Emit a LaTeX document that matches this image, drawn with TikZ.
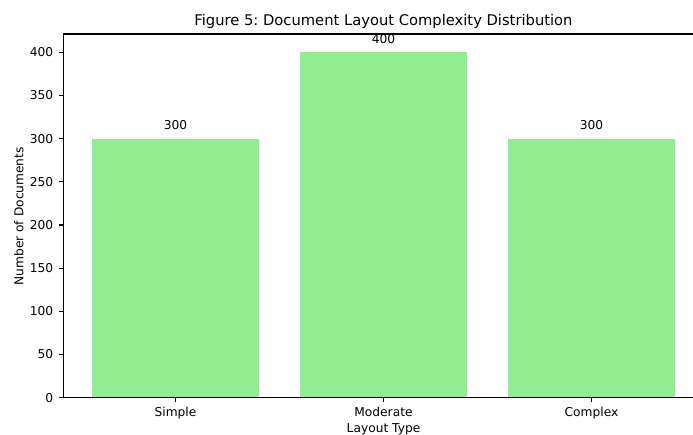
\documentclass[tikz,border=0pt]{standalone}
\usepackage{fontspec}
\setmainfont{DejaVu Sans}
\frenchspacing
\definecolor{barg}{HTML}{90EE90}
\begin{document}
\begin{tikzpicture}[x=0.72pt,y=-0.72pt,
  bar/.style={fill=barg,draw=none},
  spine/.style={draw=black,line width=0.8pt},
  tickmark/.style={draw=black,line width=0.8pt},
  ticklab/.style={inner sep=0pt,font=\fontsize{8.8}{10.5}\selectfont},
  vallab/.style={inner sep=0pt,anchor=base,font=\fontsize{8.8}{10.5}\selectfont},
  axlab/.style={inner sep=0pt,anchor=base,font=\fontsize{8.8}{10.5}\selectfont},
  titlelab/.style={inner sep=0pt,anchor=base,font=\fontsize{10.6}{12.7}\selectfont}]
\useasboundingbox (0,0) rectangle (693,435);
\pgfmathsetmacro{\yz}{397.7}
\pgfmathsetmacro{\ys}{0.8635}
% bars
\foreach \i/\v/\name in {0/300/simple,1/400/moderate,2/300/complex}{
  \pgfmathsetmacro{\cx}{175.5+208*\i}
  \pgfmathsetmacro{\top}{\yz-\v*\ys}
  \fill[bar] (\cx-83.2,\yz) rectangle (\cx+83.2,\top);
  \node[vallab] (val\name) at (\cx,\top-9.2) {\v};
  \draw[tickmark] (\cx,\yz) -- (\cx,\yz+4.3);
}
\node[ticklab,anchor=base] (xsimple) at (175.5,416) {Simple};
\node[ticklab,anchor=base] (xmoderate) at (383.5,416) {Moderate};
\node[ticklab,anchor=base] (xcomplex) at (591.5,416) {Complex};
% y ticks
\foreach \v in {0,50,...,400}{
  \pgfmathsetmacro{\yy}{\yz-\v*\ys}
  \draw[tickmark] (63.2,\yy) -- (58.9,\yy);
  \node[ticklab,anchor=east] (y\v) at (53.5,\yy) {\v};
}
% spines
\draw[spine] (693,34) -- (63.2,34) -- (63.2,\yz) -- (693,\yz);
% labels
\node[axlab] (xlabel) at (383.5,432.3) {Layout Type};
\node[axlab,rotate=90] (ylabel) at (23.3,216.3) {Number of Documents};
\node[titlelab] (title) at (383.5,26) {Figure 5: Document Layout Complexity Distribution};
\end{tikzpicture}
\end{document}
